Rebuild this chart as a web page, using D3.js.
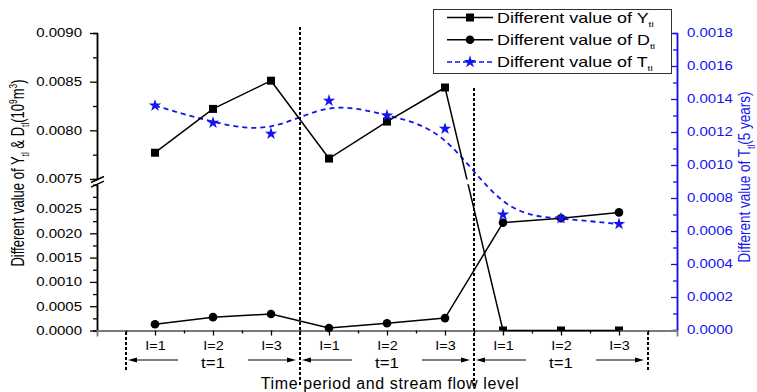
<!DOCTYPE html>
<html>
<head>
<meta charset="utf-8">
<script src="https://cdn.jsdelivr.net/npm/d3@7"></script>
<style>
  body { margin: 0; background: #fff; }
  svg { font-family: "Liberation Sans", Arial, sans-serif; display: block; }
</style>
</head>
<body>
<svg id="chart" width="757" height="392"></svg>
<script>
// values
const categories = ["I=1", "I=2", "I=3", "I=1", "I=2", "I=3", "I=1", "I=2", "I=3"];
const periods = ["t=1", "t=1", "t=1"];
const yDiff = [0.00777, 0.00822, 0.00851, 0.00771, 0.00809, 0.00844, 0, 0, 0];
const dDiff = [0.00013, 0.000275, 0.00034, 0.00005, 0.00015, 0.000255, 0.00222, 0.00231, 0.00243];
const tDiff = [0.00136, 0.001256, 0.00119, 0.00139, 0.0013, 0.00122, 0.0007, 0.000677, 0.000642];
const leftUpperTicks = [0.0075, 0.008, 0.0085, 0.009];
const leftLowerTicks = [0, 0.0005, 0.001, 0.0015, 0.002, 0.0025];
const rightTicks = [0, 0.0002, 0.0004, 0.0006, 0.0008, 0.001, 0.0012, 0.0014, 0.0016, 0.0018];

const BLUE = "#1414f0";
const STRETCH = 1.25; // the reference text is drawn wide

const svg = d3.select("#chart");

const x = d3.scaleLinear().domain([0, categories.length + 1]).range([97, 677]);
const yUp = d3.scaleLinear().domain([0.0075, 0.009]).range([179, 33]);
const yLow = d3.scaleLinear().domain([0, 0.003]).range([330.5, 184.7]);
const yLeft = (v) => (v >= 0.005 ? yUp(v) : yLow(v));
const yRight = d3.scaleLinear().domain([0, 0.0018]).range([330, 33]);
const fmt = d3.format(".4f");
const idx = categories.map((_, i) => i + 1);

const midTicks = (ticks, extra) => d3.pairs(ticks.concat(extra || [])).map(([a, b]) => (a + b) / 2);

// wide text: scale each label about its own anchor
const stretch = (sel, sx) =>
  sel.each(function () {
    const t = d3.select(this);
    const tx = +t.attr("x") || 0;
    t.attr("x", tx / sx).attr("transform", `scale(${sx},1)`);
  });

// text with sub / superscripts, parts = [[str, "sub"|"sup"|undefined], ...]
const richText = (sel, parts, size, small) => {
  let shift = 0;
  parts.forEach(([str, kind]) => {
    const target = kind === "sub" ? size * 0.3 : kind === "sup" ? -size * 0.42 : 0;
    sel.append("tspan")
      .attr("dy", target - shift)
      .attr("font-size", kind ? small : size)
      .text(str);
    shift = target;
  });
};

const styleAxis = (g, color, size) => {
  g.attr("font-family", null).attr("font-size", size);
  g.selectAll("line").attr("stroke", color).attr("stroke-width", 1.3);
  g.selectAll(".domain").attr("stroke", color).attr("stroke-width", 1.5);
  g.selectAll("text").attr("fill", color);
};

// ---- left axis (with break)
const leftUpper = svg.append("g").attr("transform", "translate(97,0)")
  .call(d3.axisLeft(yUp).tickValues(leftUpperTicks).tickFormat(fmt)
    .tickSizeInner(7).tickSizeOuter(0).tickPadding(8));
const leftLower = svg.append("g").attr("transform", "translate(97,0)")
  .call(d3.axisLeft(yLow).tickValues(leftLowerTicks).tickFormat(fmt)
    .tickSizeInner(7).tickSizeOuter(0).tickPadding(8));
svg.append("g").attr("transform", "translate(97,0)")
  .call(d3.axisLeft(yUp).tickValues(midTicks(leftUpperTicks)).tickFormat("").tickSize(4))
  .call((g) => styleAxis(g, "#000", 12));
svg.append("g").attr("transform", "translate(97,0)")
  .call(d3.axisLeft(yLow).tickValues(midTicks(leftLowerTicks, [0.003])).tickFormat("").tickSize(4))
  .call((g) => styleAxis(g, "#000", 12));
[leftUpper, leftLower].forEach((g) => {
  styleAxis(g, "#000", 12);
  stretch(g.selectAll("text"), STRETCH);
});

// break marks
[yUp.range()[0] + 0.5, yLow.range()[1] - 0.5].forEach((by) => {
  svg.append("line")
    .attr("x1", 91).attr("y1", by + 3).attr("x2", 104).attr("y2", by - 3)
    .attr("stroke", "#000").attr("stroke-width", 1.4);
});

// ---- right axis
const rightAxis = svg.append("g").attr("transform", "translate(677,0)")
  .call(d3.axisRight(yRight).tickValues(rightTicks).tickFormat(fmt)
    .tickSizeInner(-6).tickSizeOuter(0).tickPadding(10));
styleAxis(rightAxis, BLUE, 12);
stretch(rightAxis.selectAll("text"), STRETCH);
svg.append("g").attr("transform", "translate(677,0)")
  .call(d3.axisRight(yRight).tickValues(midTicks(rightTicks)).tickFormat("").tickSize(-4))
  .call((g) => styleAxis(g, BLUE, 12));

// ---- bottom axis
const xAxis = svg.append("g").attr("transform", "translate(0,330.5)")
  .call(d3.axisBottom(x).tickValues(idx).tickFormat((d) => categories[d - 1])
    .tickSizeInner(5).tickSizeOuter(6).tickPadding(6));
styleAxis(xAxis, "#000", 12);
xAxis.select(".domain").attr("stroke", "#7a7a7a").attr("stroke-width", 1.8);
stretch(xAxis.selectAll("text"), 1.2);
svg.append("g").attr("transform", "translate(0,330.5)")
  .call(d3.axisBottom(x).tickValues(d3.range(0.5, categories.length + 1, 1)).tickFormat("").tickSize(3))
  .call((g) => styleAxis(g, "#000", 12))
  .call((g) => g.select(".domain").remove());

// ---- group dividers, arrows, period labels
const groupSize = categories.length / periods.length;
const bounds = d3.range(periods.length + 1).map((i) => i * groupSize + 0.5);
bounds.forEach((b, i) => {
  const [y1, y2] = i === 1 ? [27, 385] : i === 2 ? [88, 388] : [332, 372];
  svg.append("line")
    .attr("x1", x(b)).attr("x2", x(b)).attr("y1", y1).attr("y2", y2)
    .attr("stroke", "#000").attr("stroke-width", 2).attr("stroke-dasharray", "3,2");
});

const arrow = (x1, x2, ay) => {
  const dir = Math.sign(x2 - x1);
  svg.append("line")
    .attr("x1", x1).attr("x2", x2 - dir * 6).attr("y1", ay).attr("y2", ay)
    .attr("stroke", "#000").attr("stroke-width", 1);
  svg.append("path")
    .attr("d", `M${x2},${ay}L${x2 - dir * 9},${ay - 2.5}L${x2 - dir * 9},${ay + 2.5}Z`)
    .attr("fill", "#000");
};

periods.forEach((p, i) => {
  const cx = x(i * groupSize + (groupSize + 1) / 2);
  arrow(cx - 35, x(bounds[i]) + 2, 360);
  arrow(cx + 35, x(bounds[i + 1]) - 4, 360);
  svg.append("text")
    .attr("x", cx).attr("y", 368)
    .attr("text-anchor", "middle").attr("font-size", 14)
    .text(p)
    .call((t) => stretch(t, 1.2));
});

svg.append("text")
  .attr("x", x(5) + 3).attr("y", 389)
  .attr("text-anchor", "middle").attr("font-size", 16).attr("letter-spacing", 0.6)
  .text("Time period and stream flow level");

// ---- axis titles
svg.append("text")
  .attr("transform", "translate(24,173) rotate(-90) scale(0.93,1.25)")
  .attr("text-anchor", "middle")
  .call((t) => richText(t, [["Different value of Y"], ["tl", "sub"], [" & D"], ["tl", "sub"],
    ["(10"], ["9", "sup"], ["m"], ["3", "sup"], [")"]], 14, 9));

svg.append("text")
  .attr("transform", "translate(750,177) rotate(-90) scale(1,1.2)")
  .attr("text-anchor", "middle").attr("fill", BLUE)
  .call((t) => richText(t, [["Different value of T"], ["tl", "sub"], ["(5 years)"]], 13.5, 8.5));

// ---- series
const defs = svg.append("defs");
const breakClip = defs.append("clipPath").attr("id", "break-clip");
breakClip.append("rect").attr("x", 90).attr("y", 0).attr("width", 600).attr("height", yUp.range()[0] + 0.5);
breakClip.append("rect").attr("x", 90).attr("y", yLow.range()[1] - 0.5).attr("width", 600).attr("height", 200);
defs.append("clipPath").attr("id", "plot-clip")
  .append("rect").attr("x", 90).attr("y", 0).attr("width", 600).attr("height", 330.5);

const tCurve = d3.line().curve(d3.curveBasis).x((d, i) => x(i + 1)).y((d) => yRight(d));
svg.append("path").datum(tDiff)
  .attr("d", tCurve)
  .attr("fill", "none").attr("stroke", BLUE).attr("stroke-width", 1.8).attr("stroke-dasharray", "5,4");

const leftLine = d3.line().x((d, i) => x(i + 1)).y((d) => yLeft(d));
svg.append("path").datum(yDiff)
  .attr("d", leftLine).attr("clip-path", "url(#break-clip)")
  .attr("fill", "none").attr("stroke", "#000").attr("stroke-width", 1.5);
svg.append("path").datum(dDiff)
  .attr("d", leftLine)
  .attr("fill", "none").attr("stroke", "#000").attr("stroke-width", 1.5);

svg.append("g").attr("clip-path", "url(#plot-clip)")
  .selectAll("rect").data(yDiff).join("rect")
  .attr("x", (d, i) => x(i + 1) - 4).attr("y", (d) => yLeft(d) - 4)
  .attr("width", 8).attr("height", 8).attr("fill", "#000");

svg.append("g").selectAll("circle").data(dDiff).join("circle")
  .attr("cx", (d, i) => x(i + 1)).attr("cy", (d) => yLeft(d))
  .attr("r", 4.3).attr("fill", "#000");

const star = d3.symbol().type(d3.symbolStar).size(48);
svg.append("g").selectAll("path").data(tDiff).join("path")
  .attr("transform", (d, i) => `translate(${x(i + 1)},${yRight(d)})`)
  .attr("d", star).attr("fill", BLUE);

// ---- legend
const legend = svg.append("g");
legend.append("rect")
  .attr("x", 433.5).attr("y", 9.5).attr("width", 238).attr("height", 64)
  .attr("fill", "#fff").attr("stroke", "#333").attr("stroke-width", 1);

const legendRows = [
  { name: "Y", color: "#000", dash: null, mark: "square" },
  { name: "D", color: "#000", dash: null, mark: "circle" },
  { name: "T", color: BLUE, dash: "5,3", mark: "star" },
];
legendRows.forEach((r, i) => {
  const ly = 17.5 + i * 22.2;
  legend.append("line")
    .attr("x1", 447).attr("x2", 493).attr("y1", ly).attr("y2", ly)
    .attr("stroke", r.color).attr("stroke-width", 1.5).attr("stroke-dasharray", r.dash);
  if (r.mark === "square") {
    legend.append("rect").attr("x", 466).attr("y", ly - 4).attr("width", 8).attr("height", 8).attr("fill", r.color);
  } else if (r.mark === "circle") {
    legend.append("circle").attr("cx", 470).attr("cy", ly).attr("r", 4.3).attr("fill", r.color);
  } else {
    legend.append("path").attr("transform", `translate(470,${ly})`).attr("d", star).attr("fill", r.color);
  }
  legend.append("text")
    .attr("transform", `translate(497,${ly + 5}) scale(1.28,1)`)
    .attr("font-size", 14)
    .call((t) => richText(t, [[`Different value of ${r.name}`], ["tl", "sub"]], 14, 8));
});
</script>
</body>
</html>
